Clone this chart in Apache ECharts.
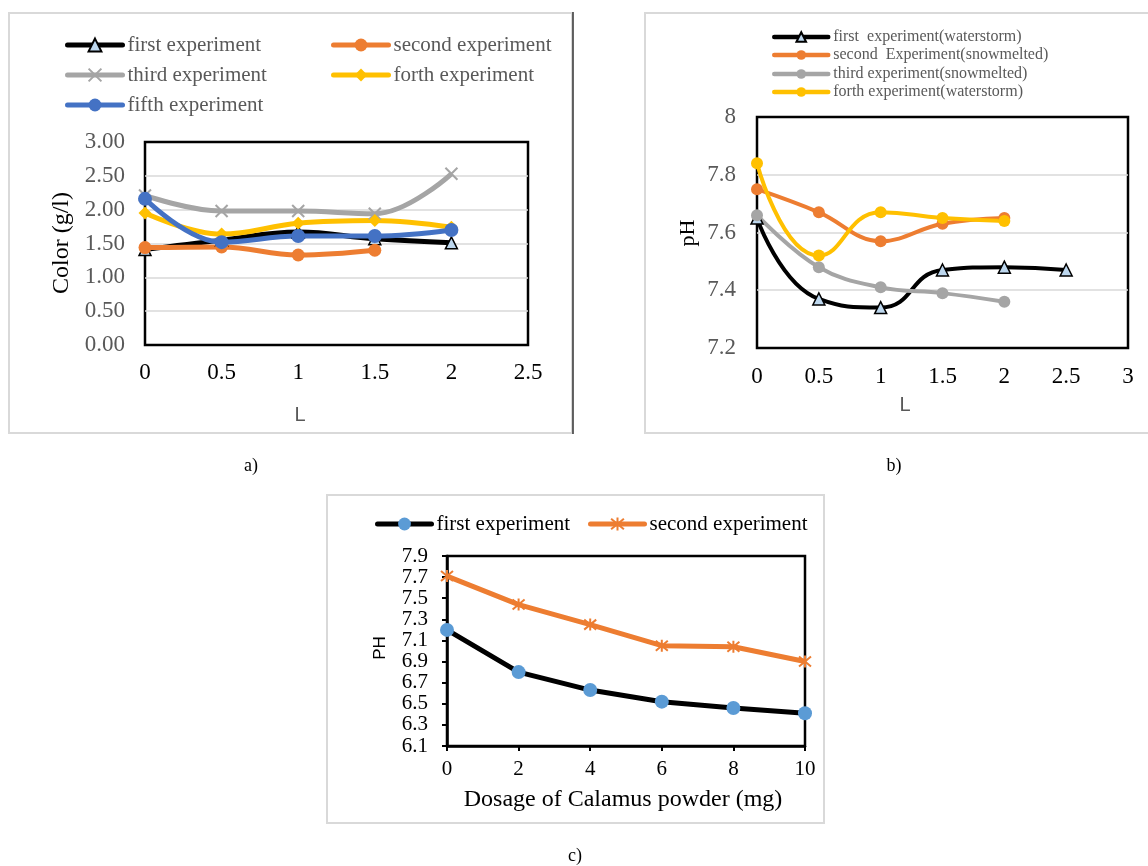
<!DOCTYPE html>
<html><head><meta charset="utf-8">
<script src="https://cdn.jsdelivr.net/npm/echarts@6/dist/echarts.min.js"></script>
<style>html,body{margin:0;padding:0;background:#fff}#c{width:1148px;height:866px}</style>
</head><body><div id="c"></div><script>
// ---------- data ----------
const aX = [0, 0.5, 1, 1.5, 2];
const aFirst = [1.41, 1.55, 1.67, 1.57, 1.51];
const aSecond = [1.44, 1.45, 1.33, 1.40];
const aThird = [2.21, 1.98, 1.98, 1.94, 2.53];
const aForth = [1.95, 1.64, 1.80, 1.84, 1.74];
const aFifth = [2.16, 1.52, 1.61, 1.61, 1.70];
const aNames = ['first experiment', 'second experiment', 'third experiment', 'forth experiment', 'fifth experiment'];

const bX = [0, 0.5, 1, 1.5, 2, 2.5];
const bFirst = [7.65, 7.37, 7.34, 7.47, 7.48, 7.47];
const bSecond = [7.75, 7.67, 7.57, 7.63, 7.65];
const bThird = [7.66, 7.48, 7.41, 7.39, 7.36];
const bForth = [7.84, 7.52, 7.67, 7.65, 7.64];
const bNames = ['first  experiment(waterstorm)', 'second  Experiment(snowmelted)', 'third experiment(snowmelted)', 'forth experiment(waterstorm)'];

const cX = [0, 2, 4, 6, 8, 10];
const cFirst = [7.20, 6.80, 6.63, 6.52, 6.46, 6.41];
const cSecond = [7.71, 7.44, 7.25, 7.05, 7.04, 6.90];
const cNames = ['first experiment', 'second experiment'];

// ---------- helpers ----------
const SERIF = '"Liberation Serif", "Times New Roman", serif';
const SANS = '"Liberation Sans", Arial, sans-serif';
const pairs = (xs, ys) => ys.map((y, i) => [xs[i], y]);
const CROSS = 'path://M0,0L10,10M10,0L0,10';
const STAR = 'path://M0,0L10,10M10,0L0,10M5,-1L5,11';
const displayName = {};
function sid(panel, name) { const id = panel + '|' + name; displayName[id] = name; return id; }

function lineSeries(panel, name, xs, ys, idx, o) {
  return {
    type: 'line', name: sid(panel, name), xAxisIndex: idx, yAxisIndex: idx,
    data: pairs(xs, ys), smooth: o.smooth || false,
    symbol: o.symbol, symbolSize: o.size,
    lineStyle: { color: o.color, width: o.width },
    itemStyle: Object.assign({ color: o.fill || o.color, borderWidth: 0 }, o.item || {}),
    color: o.color, animation: false, z: 2 + idx
  };
}

const series = [
  lineSeries('a', aNames[0], aX, aFirst, 0, { color: '#000', width: 5, symbol: 'triangle', size: 12, fill: '#bdd7ee', item: { borderColor: '#000', borderWidth: 1.5 }, smooth: 0.4 }),
  lineSeries('a', aNames[1], aX, aSecond, 0, { color: '#ed7d31', width: 5, symbol: 'circle', size: 13, smooth: 0.4 }),
  lineSeries('a', aNames[2], aX, aThird, 0, { color: '#a5a5a5', width: 5, symbol: CROSS, size: 12, item: { borderColor: '#a5a5a5', borderWidth: 2 }, smooth: 0.4 }),
  lineSeries('a', aNames[3], aX, aForth, 0, { color: '#ffc000', width: 5, symbol: 'diamond', size: 13, smooth: 0.4 }),
  lineSeries('a', aNames[4], aX, aFifth, 0, { color: '#4472c4', width: 5, symbol: 'circle', size: 14, smooth: 0.4 }),

  lineSeries('b', bNames[0], bX, bFirst, 1, { color: '#000', width: 4, symbol: 'triangle', size: 12, fill: '#bdd7ee', item: { borderColor: '#000', borderWidth: 1.5 }, smooth: 0.5 }),
  lineSeries('b', bNames[1], bX, bSecond, 1, { color: '#ed7d31', width: 4, symbol: 'circle', size: 12, smooth: 0.4 }),
  lineSeries('b', bNames[2], bX, bThird, 1, { color: '#a5a5a5', width: 4, symbol: 'circle', size: 12, smooth: 0.4 }),
  lineSeries('b', bNames[3], bX, bForth, 1, { color: '#ffc000', width: 4, symbol: 'circle', size: 12, smooth: 0.5 }),

  lineSeries('c', cNames[0], cX, cFirst, 2, { color: '#000', width: 5, symbol: 'circle', size: 14, fill: '#5b9bd5' }),
  lineSeries('c', cNames[1], cX, cSecond, 2, { color: '#ed7d31', width: 5, symbol: STAR, size: 12, item: { borderColor: '#ed7d31', borderWidth: 2 } })
];

function legendAt(id, left, top, w, h, size, lh, color, lw) {
  return {
    data: [id], left: left, top: top, padding: 0, itemWidth: w, itemHeight: h, itemGap: 0,
    selectedMode: false, formatter: n => displayName[n],
    lineStyle: { width: lw, cap: 'round' },
    textStyle: { fontFamily: SERIF, fontSize: size, color: color, lineHeight: lh, padding: [0, 0, 0, 0] }
  };
}

const legends = [
  legendAt('a|' + aNames[0], 65, 33, 55, 16, 21, 24, '#595959', 5),
  legendAt('a|' + aNames[1], 331, 33, 55, 16, 21, 24, '#595959', 5),
  legendAt('a|' + aNames[2], 65, 63, 55, 16, 21, 24, '#595959', 5),
  legendAt('a|' + aNames[3], 331, 63, 55, 16, 21, 24, '#595959', 5),
  legendAt('a|' + aNames[4], 65, 93, 55, 16, 21, 24, '#595959', 5),
  legendAt('b|' + bNames[0], 772, 28, 54, 12, 16, 18, '#595959', 4.5),
  legendAt('b|' + bNames[1], 772, 46, 54, 12, 16, 18, '#595959', 4.5),
  legendAt('b|' + bNames[2], 772, 65, 54, 12, 16, 18, '#595959', 4.5),
  legendAt('b|' + bNames[3], 772, 83, 54, 12, 16, 18, '#595959', 4.5),
  legendAt('c|' + cNames[0], 375, 512, 54, 16, 21, 24, '#000', 5),
  legendAt('c|' + cNames[1], 588, 512, 54, 16, 21, 24, '#000', 5)
];

const splitGray = { show: true, showMinLine: false, showMaxLine: false, lineStyle: { color: '#d9d9d9', width: 1.5 } };
const option = {
  animation: false,
  backgroundColor: '#fff',
  legend: legends,
  grid: [
    { left: 145, top: 142, width: 383, height: 203, show: true, borderColor: '#000', borderWidth: 2.5, backgroundColor: 'transparent' },
    { left: 757, top: 117, width: 371, height: 231, show: true, borderColor: '#000', borderWidth: 2.5, backgroundColor: 'transparent' },
    { left: 447, top: 556, width: 358, height: 190, show: true, borderColor: '#000', borderWidth: 2.5, backgroundColor: 'transparent' }
  ],
  xAxis: [
    { type: 'value', gridIndex: 0, min: 0, max: 2.5, interval: 0.5, axisLine: { show: false }, axisTick: { show: false }, splitLine: { show: false },
      axisLabel: { fontFamily: SERIF, fontSize: 23, color: '#000', margin: 16 } },
    { type: 'value', gridIndex: 1, min: 0, max: 3, interval: 0.5, axisLine: { show: false }, axisTick: { show: false }, splitLine: { show: false },
      axisLabel: { fontFamily: SERIF, fontSize: 23, color: '#000', margin: 17 } },
    { type: 'value', gridIndex: 2, min: 0, max: 10, interval: 2, axisLine: { show: true, lineStyle: { color: '#000', width: 2.5 } },
      axisTick: { show: true, length: 5, lineStyle: { color: '#000', width: 2 } }, splitLine: { show: false },
      axisLabel: { fontFamily: SERIF, fontSize: 21, color: '#000', margin: 13 } }
  ],
  yAxis: [
    { type: 'value', gridIndex: 0, min: 0, max: 3, interval: 0.5, axisLine: { show: false }, axisTick: { show: false }, splitLine: splitGray,
      axisLabel: { fontFamily: SERIF, fontSize: 23, color: '#595959', margin: 20, formatter: v => v.toFixed(2) } },
    { type: 'value', gridIndex: 1, min: 7.2, max: 8, interval: 0.2, axisLine: { show: false }, axisTick: { show: false }, splitLine: splitGray,
      axisLabel: { fontFamily: SERIF, fontSize: 23, color: '#595959', margin: 21, formatter: v => String(Math.round(v * 10) / 10) } },
    { type: 'value', gridIndex: 2, min: 6.1, max: 7.9, interval: 0.2, axisLine: { show: true, lineStyle: { color: '#000', width: 2.5 } },
      axisTick: { show: true, length: 5, lineStyle: { color: '#000', width: 2 } }, splitLine: { show: false },
      axisLabel: { fontFamily: SERIF, fontSize: 21, color: '#000', margin: 19, formatter: v => v.toFixed(1) } }
  ],
  series: series,
  graphic: [
    { type: 'rect', shape: { x: 9, y: 13, width: 563, height: 420 }, style: { fill: 'none', stroke: '#d9d9d9', lineWidth: 2 }, z: -10 },
    { type: 'line', shape: { x1: 573, y1: 12, x2: 573, y2: 434 }, style: { stroke: '#333', lineWidth: 1.5 }, z: -9 },
    { type: 'rect', shape: { x: 645, y: 13, width: 520, height: 420 }, style: { fill: 'none', stroke: '#d9d9d9', lineWidth: 2 }, z: -10 },
    { type: 'rect', shape: { x: 327, y: 495, width: 497, height: 328 }, style: { fill: 'none', stroke: '#d9d9d9', lineWidth: 2 }, z: -10 },

    { type: 'text', x: 62, y: 243, rotation: Math.PI / 2, style: { text: 'Color (g/l)', fontFamily: SERIF, fontSize: 24, fill: '#000', align: 'center', verticalAlign: 'middle' } },
    { type: 'text', x: 300, y: 415, style: { text: 'L', fontFamily: SANS, fontSize: 20, fill: '#595959', align: 'center', verticalAlign: 'middle' } },
    { type: 'text', x: 688, y: 233, rotation: Math.PI / 2, style: { text: 'pH', fontFamily: SERIF, fontSize: 22, fill: '#000', align: 'center', verticalAlign: 'middle' } },
    { type: 'text', x: 905, y: 405, style: { text: 'L', fontFamily: SANS, fontSize: 20, fill: '#595959', align: 'center', verticalAlign: 'middle' } },
    { type: 'text', x: 380, y: 648, rotation: Math.PI / 2, style: { text: 'PH', fontFamily: SANS, fontSize: 17, fill: '#000', align: 'center', verticalAlign: 'middle' } },
    { type: 'text', x: 623, y: 800, style: { text: 'Dosage of Calamus powder (mg)', fontFamily: SERIF, fontSize: 24, fill: '#000', align: 'center', verticalAlign: 'middle' } },

    { type: 'text', x: 251, y: 466, style: { text: 'a)', fontFamily: SERIF, fontSize: 18, fill: '#000', align: 'center', verticalAlign: 'middle' } },
    { type: 'text', x: 894, y: 466, style: { text: 'b)', fontFamily: SERIF, fontSize: 18, fill: '#000', align: 'center', verticalAlign: 'middle' } },
    { type: 'text', x: 575, y: 856, style: { text: 'c)', fontFamily: SERIF, fontSize: 18, fill: '#000', align: 'center', verticalAlign: 'middle' } }
  ]
};
const chart = echarts.init(document.getElementById('c'), null, { renderer: 'canvas' });
chart.setOption(option);
</script></body></html>
